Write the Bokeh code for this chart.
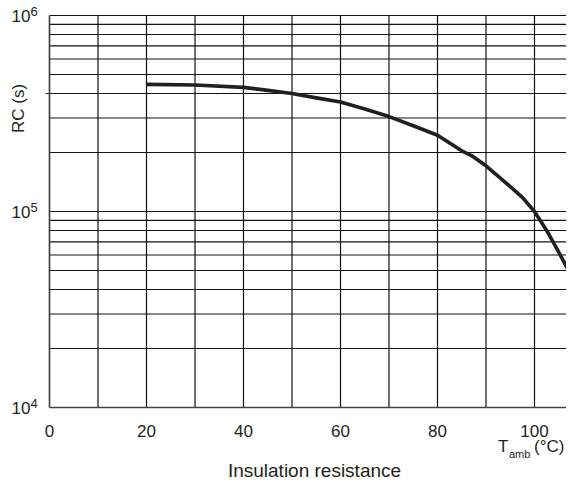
import math
from bokeh.plotting import figure
from bokeh.models import Label, Range1d
from bokeh.embed import file_html
from bokeh.resources import INLINE

# data
temp_c = [20, 30, 40, 45, 50, 55, 60, 65, 70, 75, 80, 85, 87, 90, 95, 97.5, 100, 102.5, 105, 108.2]
rc_s = [4.45e5, 4.42e5, 4.3e5, 4.15e5, 4.0e5, 3.8e5, 3.62e5, 3.33e5, 3.05e5, 2.74e5, 2.45e5,
        2.04e5, 1.93e5, 1.71e5, 1.34e5, 1.18e5, 1.0e5, 8.0e4, 6.2e4, 4.4e4]
x_ticks = [0, 20, 40, 60, 80, 100]
x_tick_labels = ["0", "20", "40", "60", "80", "100"]
x_grid = [10, 20, 30, 40, 50, 60, 70, 80, 90, 100]
y_grid = [2e4, 3e4, 4e4, 5e4, 6e4, 7e4, 8e4, 9e4, 1e5, 2e5, 3e5, 4e5, 5e5, 6e5, 7e5, 8e5, 9e5, 1e6]
y_decades = [1e4, 1e5, 1e6]
y_exponents = ["4", "5", "6"]
y_axis_tick = [4e5]
x_min, y_min, y_max = 0, 1e4, 1e6

# layout (pixels)
W, H = 566, 481
LEFT, TOP, BOTTOM = 49, 15, 407
X_UNIT = 4.85                      # px per degree C
DECADE = (BOTTOM - TOP) / 2.0      # px per decade

x_end = (W - LEFT) / X_UNIT
x_range = Range1d(-LEFT / X_UNIT, x_end)
y_range = Range1d(10 ** (4 - (H - BOTTOM) / DECADE), 10 ** (6 + TOP / DECADE))

FONT = "Liberation Sans"
TXT = "#231f20"

p = figure(width=W, height=H, output_backend="svg", toolbar_location=None,
           y_axis_type="log", x_range=x_range, y_range=y_range,
           x_axis_location=None, y_axis_location=None,
           min_border=0, min_border_left=0, min_border_right=0,
           min_border_top=0, min_border_bottom=0)
p.outline_line_color = None
p.grid.visible = False
p.background_fill_color = "white"
p.border_fill_color = "white"

# grid lines
p.segment(x0=x_grid, y0=[y_min] * len(x_grid), x1=x_grid, y1=[y_max] * len(x_grid),
          line_color="#111111", line_width=1.2)
p.segment(x0=[x_min] * len(y_grid), y0=y_grid, x1=[x_end] * len(y_grid), y1=y_grid,
          line_color="#111111", line_width=1.2)

# axis lines
p.segment(x0=[x_min], y0=[y_min], x1=[x_min], y1=[y_max], line_color="#444444", line_width=1.7)
p.segment(x0=[x_min], y0=[y_min], x1=[x_end], y1=[y_min], line_color="#444444", line_width=1.7)
p.scatter(x=[x_min] * len(y_axis_tick), y=y_axis_tick, marker="dash", size=8,
          line_color="#222222", line_width=1.2)

# curve
p.line(temp_c, rc_s, line_color="#231f20", line_width=3.6, line_join="round")


def lab(x, y, text, size, dx=0, dy=0, align="center", angle=0.0):
    p.add_layout(Label(x=x, y=y, x_offset=dx, y_offset=dy, text=text, angle=angle,
                       text_font=FONT, text_font_size=size, text_color=TXT,
                       text_align=align, text_baseline="middle"))


# x tick labels
for t, s in zip(x_ticks, x_tick_labels):
    lab(t, y_min, s, "17px", dy=-23)

# decade labels 10^n
for yv, ex in zip(y_decades, y_exponents):
    lab(x_min, yv, "10", "17px", dx=-19, align="right")
    lab(x_min, yv, ex, "13px", dx=-19, dy=4, align="left")

# y axis title
lab(x_min, 4e5, "RC (s)", "17px", dx=-31.5, dy=-15, angle=math.pi / 2)

# x axis unit label T_amb (°C)
lab(100, y_min, "T", "17px", dx=-26, dy=-39, align="right")
lab(100, y_min, "amb", "11px", dx=-25.5, dy=-46, align="left")
lab(100, y_min, "(°C)", "17px", dx=30, dy=-39, align="right")

# chart title
lab(x_min, y_min, "Insulation resistance", "19px", dx=265, dy=-62.5)

open("out.html", "w").write(file_html(p, INLINE))
